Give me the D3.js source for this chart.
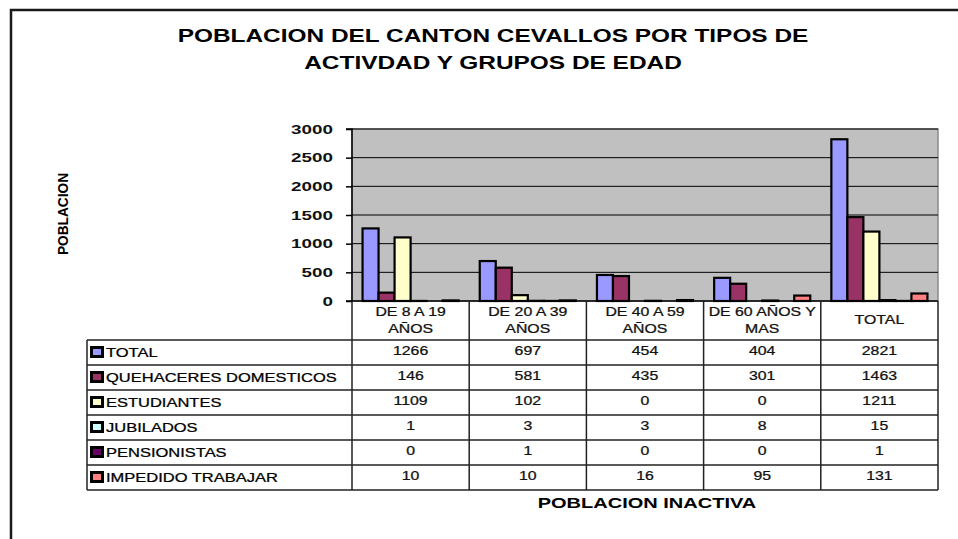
<!DOCTYPE html>
<html>
<head>
<meta charset="utf-8">
<script src="https://cdn.jsdelivr.net/npm/d3@7"></script>
<style>
  html, body { margin: 0; padding: 0; background: #fff; }
  svg { display: block; font-family: "Liberation Sans", Arial, sans-serif; }
</style>
</head>
<body>
<svg id="chart" width="958" height="539"></svg>
<script>
// ---- data ----
const titleLines = ["POBLACION DEL CANTON CEVALLOS POR TIPOS DE", "ACTIVDAD Y GRUPOS DE EDAD"];
const yAxisTitle = "POBLACION";
const xAxisTitle = "POBLACION INACTIVA";
const categories = ["DE 8 A 19 AÑOS", "DE 20 A 39 AÑOS", "DE 40 A 59 AÑOS", "DE 60 AÑOS Y MAS", "TOTAL"];
const categoryLines = [["DE 8 A 19", "AÑOS"], ["DE 20 A 39", "AÑOS"], ["DE 40 A 59", "AÑOS"], ["DE 60 AÑOS Y", "MAS"], ["TOTAL"]];
const seriesNames = ["TOTAL", "QUEHACERES DOMESTICOS", "ESTUDIANTES", "JUBILADOS", "PENSIONISTAS", "IMPEDIDO TRABAJAR"];
const totalVals = [1266, 697, 454, 404, 2821];
const quehaceresVals = [146, 581, 435, 301, 1463];
const estudiantesVals = [1109, 102, 0, 0, 1211];
const jubiladosVals = [1, 3, 3, 8, 15];
const pensionistasVals = [0, 1, 0, 0, 1];
const impedidoVals = [10, 10, 16, 95, 131];
const yTicks = [0, 500, 1000, 1500, 2000, 2500, 3000];
const seriesColors = ["#9999FF", "#993366", "#FFFFCC", "#CCFFFF", "#660066", "#FF8080"];

const seriesValues = [totalVals, quehaceresVals, estudiantesVals, jubiladosVals, pensionistasVals, impedidoVals];

// ---- layout ----
const svg = d3.select("#chart");
const SX = 1.32; // horizontal stretch of the reference text
const plot = { left: 352, right: 938, top: 129, bottom: 301 };
const table = { left: 87, top: 340, bottom: 490 };

function T(parent, x, y, str, o = {}) {
  return parent.append("text")
    .attr("transform", `translate(${x},${y}) scale(${o.sx || SX},1)`)
    .attr("text-anchor", o.anchor || "middle")
    .attr("dy", "0.36em")
    .attr("font-size", o.size || 12)
    .attr("font-weight", o.weight || "normal")
    .attr("fill", o.fill || "#111")
    .attr("stroke", o.halo || "none")
    .attr("stroke-width", o.halo ? 0.25 : 0)
    .text(str);
}

// outer frame
svg.append("path")
  .attr("d", `M11,539 L11,10 L958,10`)
  .attr("fill", "none").attr("stroke", "#1a1a1a").attr("stroke-width", 2.5);

// title
titleLines.forEach((t, i) => T(svg, 493, 35 + i * 27, t, { size: 18.5, weight: "bold", fill: "#000" }));

// scales
const x0 = d3.scaleBand().domain(categories).range([plot.left, plot.right]).padding(0);
const bw = x0.bandwidth();
const gap = bw * 0.09;
const x1 = d3.scaleBand().domain(seriesNames).range([gap, bw - gap]).padding(0);
const y = d3.scaleLinear().domain([0, 3000]).range([plot.bottom, plot.top]);

// plot background
svg.append("rect")
  .attr("x", plot.left).attr("y", plot.top)
  .attr("width", plot.right - plot.left).attr("height", plot.bottom - plot.top)
  .attr("fill", "#C0C0C0").attr("stroke", "#8a8a8a").attr("stroke-width", 1.5);

// gridlines
svg.append("g").selectAll("line").data(yTicks.filter(d => d > 0)).join("line")
  .attr("x1", plot.left).attr("x2", plot.right)
  .attr("y1", d => y(d)).attr("y2", d => y(d))
  .attr("stroke", "#000").attr("stroke-width", 1);

// y axis
const yAxis = d3.axisLeft(y).tickValues(yTicks).tickSize(6).tickFormat("");
const ag = svg.append("g").attr("transform", `translate(${plot.left},0)`).call(yAxis);
ag.selectAll("path, line").attr("stroke", "#000").attr("stroke-width", 1.5);
ag.select(".domain").attr("d", `M-6,${plot.top}H0V${plot.bottom}H-6`);
yTicks.forEach(v => T(svg, 333, y(v), String(v), { anchor: "end", size: 13, weight: "bold", sx: 1.45, fill: "#111" }));

// y axis title
svg.append("text")
  .attr("transform", `translate(63,214) rotate(-90)`)
  .attr("text-anchor", "middle").attr("dy", "0.36em")
  .attr("font-size", 14).attr("font-weight", "bold").attr("fill", "#000")
  .attr("textLength", 82).attr("lengthAdjust", "spacingAndGlyphs")
  .text(yAxisTitle);

// bars
const barsG = svg.append("g");
seriesNames.forEach((s, si) => {
  barsG.append("g").selectAll("rect").data(seriesValues[si]).join("rect")
    .attr("x", (d, i) => x0(categories[i]) + x1(s))
    .attr("y", d => y(d))
    .attr("width", x1.bandwidth())
    .attr("height", d => plot.bottom - y(d))
    .attr("fill", seriesColors[si])
    .attr("stroke", "#000").attr("stroke-width", 2.2);
});

// data table
const rowY = d3.scaleBand().domain(seriesNames).range([table.top, table.bottom]);
const tg = svg.append("g");
const lineC = "#222";
// horizontal lines
[table.top, ...seriesNames.map(s => rowY(s) + rowY.bandwidth())].forEach(yy => {
  tg.append("line").attr("x1", table.left).attr("x2", plot.right).attr("y1", yy).attr("y2", yy)
    .attr("stroke", lineC).attr("stroke-width", 1.5);
});
// left border
tg.append("line").attr("x1", table.left).attr("x2", table.left).attr("y1", table.top).attr("y2", table.bottom)
  .attr("stroke", lineC).attr("stroke-width", 1.5);
// header bottom line (axis)
tg.append("line").attr("x1", plot.left).attr("x2", plot.right).attr("y1", plot.bottom).attr("y2", plot.bottom)
  .attr("stroke", "#000").attr("stroke-width", 1.5);
// vertical column lines
[...categories.map(c => x0(c)), plot.right].forEach(xx => {
  tg.append("line").attr("x1", xx).attr("x2", xx).attr("y1", plot.bottom).attr("y2", table.bottom)
    .attr("stroke", lineC).attr("stroke-width", 1.5);
});
// header labels
categories.forEach((c, i) => {
  const cx = x0(c) + bw / 2;
  const lines = categoryLines[i];
  if (lines.length === 1) {
    T(tg, cx, 320, lines[0], { size: 12, halo: "#111" });
  } else {
    lines.forEach((l, li) => T(tg, cx, 311.5 + li * 17.5, l, { size: 12, halo: "#111" }));
  }
});
// rows
seriesNames.forEach((s, si) => {
  const cy = rowY(s) + rowY.bandwidth() / 2;
  tg.append("rect").attr("x", 91.5).attr("y", cy - 5).attr("width", 11).attr("height", 9)
    .attr("fill", seriesColors[si]).attr("stroke", "#000").attr("stroke-width", 3);
  T(tg, 106, cy, s, { anchor: "start", size: 12.5, fill: "#000", halo: "#000" });
  seriesValues[si].forEach((v, ci) => {
    T(tg, x0(categories[ci]) + bw / 2, cy - 1.5, String(v), { size: 12, halo: "#111" });
  });
});

// x axis title
T(svg, 647, 502.5, xAxisTitle, { size: 14.5, weight: "bold", sx: 1.38, fill: "#000" });
</script>
</body>
</html>
